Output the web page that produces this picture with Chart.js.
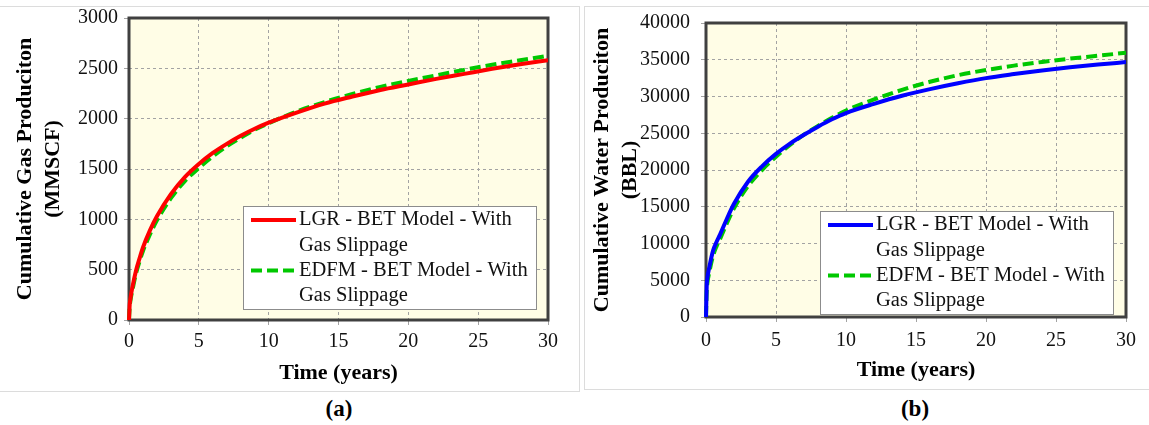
<!DOCTYPE html>
<html>
<head>
<meta charset="utf-8">
<script src="https://cdn.jsdelivr.net/npm/chart.js@4.4.1/dist/chart.umd.min.js"></script>
<style>
  html, body { margin: 0; padding: 0; background: #fff; width: 1149px; height: 425px; overflow: hidden; }
  .panel { position: absolute; border: 1px solid #dcdcdc; box-sizing: border-box; }
  #panelA { left: -1px; top: 6px; width: 581px; height: 386px; }
  #panelB { left: 584px; top: 6px; width: 600px; height: 384px; }
  canvas { position: absolute; top: 0; }
  #chartA { left: 0; }
  #chartB { left: 584px; }
  .caption { position: absolute; top: 396px; width: 100px; text-align: center;
             font: bold 23px "Liberation Serif", serif; line-height: 26px; color: #000; }
</style>
</head>
<body>
<div class="panel" id="panelA"></div>
<div class="panel" id="panelB"></div>
<canvas id="chartA" width="579" height="392"></canvas>
<canvas id="chartB" width="565" height="392"></canvas>
<div class="caption" style="left:289px">(a)</div>
<div class="caption" style="left:865px">(b)</div>

<script>
// Simulation time (years)
const years = [0, 0.05, 0.1, 0.25, 0.5, 0.75, 1, 1.5, 2, 3, 4, 5, 6, 7, 8, 9, 10, 12, 14, 16, 18, 20, 22, 24, 26, 28, 30];

// Cumulative gas production (MMSCF)
const gasLGR  = [0, 150, 210, 330, 490, 610, 720, 890, 1030, 1250, 1420, 1550, 1660, 1750, 1830, 1900, 1960, 2060, 2150, 2220, 2285, 2340, 2395, 2445, 2495, 2540, 2580];
const gasEDFM = [0, 130, 190, 300, 460, 580, 685, 850, 990, 1210, 1380, 1510, 1625, 1725, 1810, 1890, 1955, 2070, 2165, 2245, 2315, 2375, 2430, 2485, 2535, 2580, 2625];

// Cumulative water production (BBL)
const waterLGR  = [0, 4200, 5300, 6900, 9000, 10200, 11200, 13400, 15400, 18400, 20500, 22200, 23600, 24800, 25900, 26900, 27750, 29000, 30100, 31000, 31800, 32500, 33050, 33550, 33980, 34350, 34680];
const waterEDFM = [0, 3500, 4600, 6200, 8300, 9600, 10600, 12800, 14800, 17800, 20000, 21800, 23400, 24800, 26000, 27100, 28100, 29600, 30900, 32000, 32900, 33600, 34200, 34700, 35150, 35550, 35950];

// Tick values
const timeTicks  = [0, 5, 10, 15, 20, 25, 30];
const gasTicks   = [0, 500, 1000, 1500, 2000, 2500, 3000];
const waterTicks = [0, 5000, 10000, 15000, 20000, 25000, 30000, 35000, 40000];

// Legend text (two lines per entry)
const labelLGR  = ['LGR - BET Model - With', 'Gas Slippage'];
const labelEDFM = ['EDFM - BET Model - With', 'Gas Slippage'];

// Axis titles
const timeTitle  = 'Time (years)';
const gasTitle   = ['Cumulative Gas Produciton', '(MMSCF)'];
const waterTitle = ['Cumulative Water Produciton', '(BBL)'];

const SERIF = '"Liberation Serif", "Times New Roman", serif';

// Cream plot background + heavy frame around the plotting area
const plotFrame = {
  id: 'plotFrame',
  beforeDraw(chart, args, opts) {
    const { ctx, chartArea: a } = chart;
    ctx.save();
    ctx.fillStyle = opts.fill;
    ctx.fillRect(a.left, a.top, a.width, a.height);
    ctx.restore();
  },
  beforeDatasetsDraw(chart, args, opts) {
    const { ctx, chartArea: a } = chart;
    ctx.save();
    ctx.strokeStyle = opts.color;
    ctx.lineWidth = opts.width;
    ctx.strokeRect(a.left, a.top, a.width, a.height);
    ctx.restore();
  }
};

// Boxed legend placed inside the plotting area
const insetLegend = {
  id: 'insetLegend',
  afterDatasetsDraw(chart, args, opts) {
    const { ctx, chartArea: a } = chart;
    const x0 = a.left + opts.left, y0 = a.top + opts.top;
    ctx.save();
    ctx.fillStyle = '#ffffff';
    ctx.fillRect(x0, y0, opts.width, opts.height);
    ctx.strokeStyle = '#8c8c8c';
    ctx.lineWidth = 1;
    ctx.strokeRect(x0 + 0.5, y0 + 0.5, opts.width, opts.height);
    let y = y0 + opts.firstLine;
    chart.data.datasets.forEach((ds, i) => {
      ctx.save();
      ctx.strokeStyle = ds.borderColor;
      ctx.lineWidth = ds.borderWidth;
      ctx.setLineDash(ds.borderDash || []);
      ctx.beginPath();
      ctx.moveTo(x0 + 8, y);
      ctx.lineTo(x0 + 53, y);
      ctx.stroke();
      ctx.restore();
      ctx.font = Chart.helpers.toFont(opts.font).string;
      ctx.fillStyle = '#111';
      ctx.textBaseline = 'middle';
      ctx.textAlign = 'left';
      opts.items[i].forEach(line => {
        ctx.fillText(line, x0 + 56, y);
        y += opts.lineStep;
      });
    });
    ctx.restore();
  }
};

function series(values) {
  return years.map((t, i) => ({ x: t, y: values[i] }));
}

function buildChart(canvasId, s) {
  const tickFont = { family: SERIF, size: 20 };
  const titleFont = { family: SERIF, size: 22, weight: 'bold' };
  const gridOpts = { color: '#a3a3a3', lineWidth: 1, tickLength: 5, tickColor: '#a3a3a3', tickBorderDash: [] };
  return new Chart(document.getElementById(canvasId), {
    type: 'line',
    data: {
      datasets: [
        { label: labelLGR.join(' '), data: series(s.values[0]), borderColor: s.colors[0], borderWidth: 4,
          pointRadius: 0, cubicInterpolationMode: 'monotone', clip: { left: 4, top: 0, right: 0, bottom: 4 } },
        { label: labelEDFM.join(' '), data: series(s.values[1]), borderColor: '#00c800', borderWidth: 4,
          borderDash: [11, 5], pointRadius: 0, cubicInterpolationMode: 'monotone', clip: { left: 4, top: 0, right: 0, bottom: 4 } }
      ]
    },
    options: {
      responsive: false,
      animation: false,
      devicePixelRatio: 1,
      events: [],
      layout: { autoPadding: false, padding: { top: 17, right: s.padRight, bottom: 0, left: 0 } },
      plugins: {
        legend: { display: false },
        tooltip: { enabled: false },
        plotFrame: { fill: '#fffde6', color: '#404040', width: 3 },
        insetLegend: { left: 114, top: 188, width: 293, height: 103, firstLine: 14, lineStep: 25.3,
                       font: { family: SERIF, size: 20.5 }, items: [labelLGR, labelEDFM] }
      },
      scales: {
        x: {
          type: 'linear', min: 0, max: 30,
          afterBuildTicks: sc => { sc.ticks = timeTicks.map(v => ({ value: v })); },
          afterFit: sc => { sc.height = s.xAxisHeight; },
          ticks: { font: tickFont, color: '#111', padding: s.xTickPad, maxRotation: 0, autoSkip: false, callback: v => String(v) },
          grid: gridOpts,
          border: { display: false, dash: [3, 3] },
          title: { display: true, text: timeTitle, font: titleFont, color: '#000', padding: { top: 0, bottom: s.xTitlePad } }
        },
        y: {
          min: 0, max: s.yMax,
          afterBuildTicks: sc => { sc.ticks = s.yTicks.map(v => ({ value: v })); },
          afterFit: sc => { sc.width = s.yAxisWidth; },
          ticks: { font: tickFont, color: '#111', padding: s.yTickPad, autoSkip: false, callback: v => String(v) },
          grid: gridOpts,
          border: { display: false, dash: [3, 3] },
          title: { display: true, text: s.yTitle, font: { family: SERIF, size: 22, weight: 'bold', lineHeight: 1.27 },
                   color: '#000', padding: { top: s.yTitlePad, bottom: 0 } }
        }
      }
    },
    plugins: [plotFrame, insetLegend]
  });
}

buildChart('chartA', {
  values: [gasLGR, gasEDFM], colors: ['#ff0000'],
  yMax: 3000, yTicks: gasTicks, yTitle: gasTitle,
  padRight: 31, xAxisHeight: 72, yAxisWidth: 129,
  xTickPad: 5, yTickPad: 6, xTitlePad: 5, yTitlePad: 11
});

buildChart('chartB', {
  values: [waterLGR, waterEDFM], colors: ['#0000ff'],
  yMax: 40000, yTicks: waterTicks, yTitle: waterTitle,
  padRight: 23, xAxisHeight: 75, yAxisWidth: 122,
  xTickPad: 7, yTickPad: 11, xTitlePad: 8, yTitlePad: 4
});
</script>
</body>
</html>
